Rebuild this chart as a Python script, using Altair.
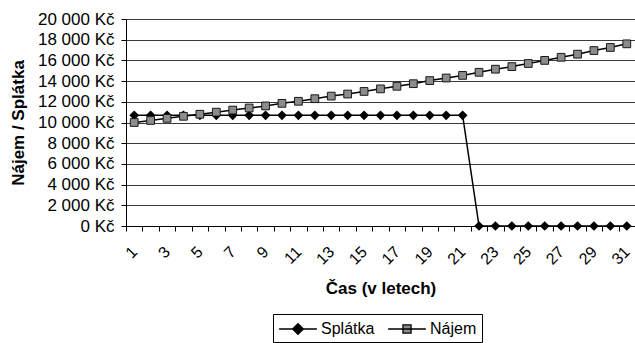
import altair as alt
import pandas as pd

# ---- data ----
years = list(range(1, 32))
splatka = [10700, 10700, 10700, 10700, 10700, 10700, 10700, 10700, 10700, 10700,
           10700, 10700, 10700, 10700, 10700, 10700, 10700, 10700, 10700, 10700,
           10700, 0, 0, 0, 0, 0, 0, 0, 0, 0, 0]
najem = [10000, 10200, 10400, 10600, 10800, 11000, 11200, 11400, 11600, 11850,
         12050, 12300, 12550, 12750, 13000, 13250, 13500, 13750, 14050, 14300,
         14550, 14850, 15150, 15400, 15700, 16000, 16300, 16600, 16950, 17250, 17600]
series_names = ["Splátka", "Nájem"]
y_ticks = [0, 2000, 4000, 6000, 8000, 10000, 12000, 14000, 16000, 18000, 20000]

df = pd.DataFrame({
    "rok": years + years,
    "hodnota": splatka + najem,
    "rada": [series_names[0]] * len(years) + [series_names[1]] * len(years),
})

W, H = 509, 207
FONT = "Liberation Sans"
bounds = [y - 0.5 for y in years] + [years[-1] + 0.5]
cat_half = W / len(years) / 2

X = alt.X(
    "rok:Q",
    scale=alt.Scale(domain=[bounds[0], bounds[-1]], nice=False, zero=False),
    axis=alt.Axis(
        values=bounds,
        labelExpr="(datum.value + 0.5) % 2 == 1 ? format(datum.value + 0.5, 'd') : ''",
        labelOffset=cat_half,
        labelAngle=-45,
        labelAlign="right",
        labelBaseline="middle",
        labelPadding=18,
        labelOverlap=False,
        labelFlush=False,
        labelBound=False,
        labelFontSize=16,
        tickSize=5,
        grid=False,
        title="Čas (v letech)",
        titleX=W / 2,
        titleY=62,
        titleAlign="center",
        titleBaseline="middle",
    ),
)
Y = alt.Y(
    "hodnota:Q",
    scale=alt.Scale(domain=[0, 20000], nice=False),
    axis=alt.Axis(
        values=y_ticks,
        labelExpr="replace(format(datum.value, ',d'), ',', ' ') + ' Kč'",
        labelPadding=7,
        labelFontSize=17,
        labelOverlap=False,
        tickSize=5,
        grid=True,
        gridColor="#3a3a3a",
        gridWidth=1,
        title="Nájem / Splátka",
        titleAngle=270,
        titleX=-108,
        titleY=H / 2,
        titleAlign="center",
        titleBaseline="middle",
    ),
)

# legend symbols: a short line with the series marker in the middle
path_d = "M-2.1,0L2.1,0M0,-0.6L0.6,0L0,0.6L-0.6,0Z"
path_s = "M-2.1,0L2.1,0M-0.45,-0.45L0.45,-0.45L0.45,0.45L-0.45,0.45Z"

leg = alt.Legend(
    title=None,
    orient="none",
    legendX=147,
    legendY=295,
    direction="horizontal",
    strokeColor="black",
    padding=5,
    symbolSize=324,
    symbolOffset=10,
    symbolStrokeColor="black",
    symbolStrokeWidth=1.3,
    labelFontSize=16,
    labelFont=FONT,
    labelColor="black",
    labelOffset=13,
    columnPadding=10,
)

base = alt.Chart(df)

lines = base.mark_line(color="black", strokeWidth=1.5).encode(
    x=X, y=Y, detail="rada:N"
)
pts_s = base.transform_filter(f"datum.rada == '{series_names[0]}'").mark_point(
    shape="diamond", filled=True, color="black", size=95, opacity=1
).encode(x=X, y=Y)
pts_n = base.transform_filter(f"datum.rada == '{series_names[1]}'").mark_point(
    shape="square", filled=True, fill="#8c8c8c", stroke="#1a1a1a",
    strokeWidth=1, size=60, opacity=1
).encode(x=X, y=Y)
legend_layer = base.transform_filter("false").mark_point(
    filled=True, stroke="black", strokeWidth=1.3, opacity=1
).encode(
    x=X, y=Y,
    color=alt.Color("rada:N", scale=alt.Scale(domain=series_names, range=["black", "#8c8c8c"]), legend=leg),
    shape=alt.Shape("rada:N", scale=alt.Scale(domain=series_names, range=[path_d, path_s]), legend=leg),
)

chart = alt.layer(lines, pts_s, pts_n, legend_layer).properties(
    width=W,
    height=H,
    autosize=alt.AutoSizeParams(type="none"),
    padding={"left": 126, "top": 19, "right": 0, "bottom": 117},
    background="white",
).configure_view(stroke=None).configure_axis(
    labelFont=FONT,
    titleFont=FONT,
    labelColor="black",
    titleColor="black",
    titleFontSize=17,
    titleFontWeight="bold",
    domainColor="black",
    tickColor="black",
    domainWidth=1,
)

chart.save("out.html", embed_options={"renderer": "svg", "actions": False})
